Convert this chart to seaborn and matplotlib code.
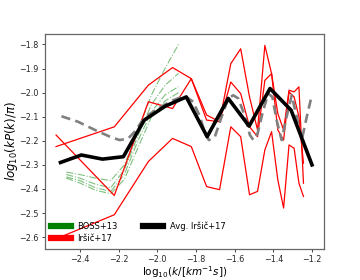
import numpy as np
import pandas as pd
import seaborn as sns
import matplotlib
matplotlib.use("Agg")
import matplotlib.pyplot as plt
from matplotlib.lines import Line2D

# Irsic+17 k bins (s/km) and three red curves
k_irsic = [0.003, 0.006, 0.009, 0.012, 0.015, 0.018, 0.021, 0.024, 0.027, 0.030,
           0.033, 0.036, 0.039, 0.042, 0.045, 0.048, 0.051, 0.054, 0.057]
irsic_a = [-2.224, -2.142, -1.969, -1.896, -1.942, -2.093, -2.121, -1.880, -1.818, -2.018,
           -2.155, -1.804, -1.921, -2.087, -2.155, -1.990, -1.997, -1.976, -2.376]
irsic_b = [-2.176, -2.427, -2.038, -2.066, -1.942, -2.114, -2.121, -1.956, -2.004, -2.142,
           -2.183, -1.949, -1.921, -2.155, -2.197, -1.997, -2.018, -2.100, -2.293]
irsic_c = [-2.607, -2.507, -2.286, -2.190, -2.224, -2.390, -2.403, -2.142, -2.183, -2.424,
           -2.410, -2.238, -2.162, -2.362, -2.479, -2.217, -2.231, -2.376, -2.431]

# averaged curve
logk_avg = [-2.500, -2.392, -2.283, -2.175, -2.067, -1.958, -1.850, -1.742, -1.633, -1.525,
            -1.417, -1.308, -1.200]
p_avg = [-2.290, -2.259, -2.276, -2.266, -2.114, -2.056, -2.018, -2.183, -2.024, -2.139,
         -1.983, -2.073, -2.300]

# model curve (grey dashed)
logk_model = [-2.495, -2.409, -2.322, -2.236, -2.193, -2.150, -2.116, -2.081, -2.047, -1.995,
              -1.926, -1.857, -1.814, -1.779, -1.753, -1.733, -1.702, -1.667, -1.633, -1.607,
              -1.581, -1.546, -1.521, -1.503, -1.481, -1.452, -1.426, -1.405, -1.383, -1.357,
              -1.331, -1.305, -1.279, -1.253, -1.227, -1.201]
p_model = [-2.098, -2.121, -2.155, -2.186, -2.197, -2.190, -2.162, -2.121, -2.093, -2.066,
           -2.034, -2.013, -2.038, -2.100, -2.169, -2.197, -2.183, -2.100, -2.024, -2.011,
           -2.024, -2.100, -2.176, -2.197, -2.169, -2.073, -2.004, -2.018, -2.114, -2.197,
           -2.100, -2.011, -2.100, -2.197, -2.100, -2.011]

# BOSS+13 curves
logk_boss = [-2.47, -2.40, -2.32, -2.24, -2.17, -2.10, -2.03, -1.96, -1.89]
boss_1 = [-2.330, -2.340, -2.355, -2.365, -2.300, -2.160, -2.010, -1.900, -1.800]
boss_2 = [-2.340, -2.355, -2.380, -2.395, -2.320, -2.180, -2.050, -1.970, -1.920]
boss_3 = [-2.350, -2.365, -2.395, -2.410, -2.340, -2.200, -2.080, -2.010, -1.975]
boss_4 = [-2.355, -2.375, -2.405, -2.420, -2.360, -2.230, -2.100, -2.035, -2.000]

fig = plt.figure(figsize=(3.6, 2.8), dpi=100)
ax = fig.add_subplot(111)

for b in [boss_1, boss_2, boss_3, boss_4]:
    sns.lineplot(x=logk_boss, y=b, ax=ax, sort=False, estimator=None,
                 color="green", alpha=0.5, lw=0.8, linestyle="-.")

lk = np.log10(k_irsic)
for r in [irsic_a, irsic_b, irsic_c]:
    sns.lineplot(x=lk, y=r, ax=ax, sort=False, estimator=None, color="red", lw=0.9)

sns.lineplot(x=logk_model, y=p_model, ax=ax, sort=False, estimator=None,
             color="gray", lw=1.9, linestyle=(0, (3.5, 2)))
sns.lineplot(x=logk_avg, y=p_avg, ax=ax, sort=False, estimator=None, color="black", lw=2.6)

ax.set_xlim(-2.58, -1.138)
ax.set_ylim(-2.65, -1.755)
ax.set_xticks([-2.4, -2.2, -2.0, -1.8, -1.6, -1.4, -1.2])
ax.set_yticks([-2.6, -2.5, -2.4, -2.3, -2.2, -2.1, -2.0, -1.9, -1.8])
ax.tick_params(labelsize=5.8, length=2.5, width=0.6, colors="0.15", pad=2)
for s in ax.spines.values():
    s.set_color("0.4")
    s.set_linewidth(0.9)

ax.set_xlabel(r"log$_{10}$($k/[km^{-1}s]$)", fontsize=7.5)
ax.set_ylabel(r"$log_{10}(kP(k)/\pi)$", fontsize=8.5)
ax.xaxis.set_label_coords(0.5, -0.07)
ax.yaxis.set_label_coords(-0.09, 0.5)

handles = [Line2D([], [], color="green", lw=4.5),
           Line2D([], [], color="red", lw=4.5),
           Line2D([], [], color="black", lw=4.5)]
ax.legend(handles, ["BOSS+13", "Iršič+17", "Avg. Iršič+17"], loc="lower left", ncol=2,
          frameon=False, fontsize=6, handlelength=2.4, columnspacing=3.0,
          labelspacing=0.4, borderaxespad=0.3)

fig.savefig("out.png", dpi=100)
